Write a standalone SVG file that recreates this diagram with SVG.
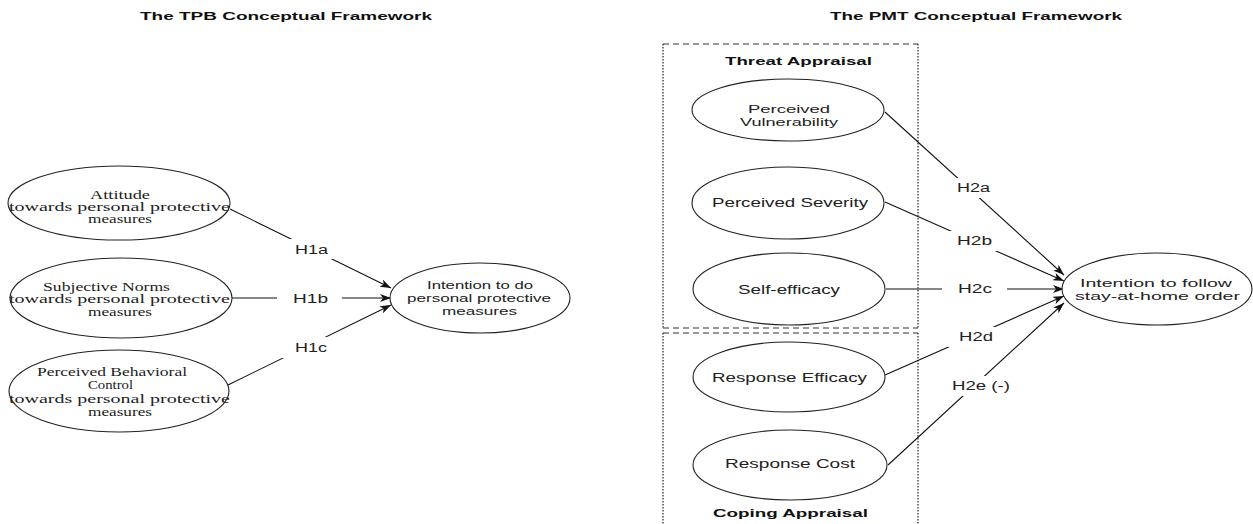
<svg xmlns="http://www.w3.org/2000/svg" width="1253" height="524" viewBox="0 0 1253 524">
<defs>
<marker id="arr" markerUnits="userSpaceOnUse" markerWidth="12" markerHeight="8" refX="11" refY="4" orient="auto">
<path d="M0,0 L11,4 L0,8 L3,4 z" fill="#111"/>
</marker>
<style>
.node{fill:#fff;stroke:#222;stroke-width:1.1}
.ser{font-family:"Liberation Serif","Times New Roman",serif;font-size:12.5px;fill:#222}
.san{font-family:"Liberation Sans",Arial,sans-serif;font-size:13px;fill:#222}
.san2{font-family:"Liberation Sans",Arial,sans-serif;font-size:11.5px;fill:#222}
.lab{font-family:"Liberation Sans",Arial,sans-serif;font-size:12px;fill:#222}
.ttl{font-family:"Liberation Sans",Arial,sans-serif;font-size:11px;font-weight:bold;fill:#111}
.edge{stroke:#111;stroke-width:1.1;fill:none;marker-end:url(#arr)}
.lbg{fill:#fff}
.dh{stroke:#333;stroke-width:1.1;stroke-dasharray:6 4;fill:none}
.dv{stroke:#222;stroke-width:1.2;stroke-dasharray:1.5 1.5;fill:none}
</style>
</defs>
<rect width="1253" height="524" fill="#fff"/>

<text class="ttl" x="140" y="20" textLength="292" lengthAdjust="spacingAndGlyphs">The TPB Conceptual Framework</text>
<text class="ttl" x="830" y="20" textLength="292" lengthAdjust="spacingAndGlyphs">The PMT Conceptual Framework</text>

<g id="threat-appraisal">
<line class="dh" x1="663" y1="44" x2="918" y2="44"/>
<line class="dh" x1="663" y1="328" x2="918" y2="328"/>
<line class="dv" x1="663" y1="44" x2="663" y2="328"/>
<line class="dv" x1="918" y1="44" x2="918" y2="328"/>
<text class="ttl" x="725" y="65" textLength="147" lengthAdjust="spacingAndGlyphs">Threat Appraisal</text>
</g>
<g id="coping-appraisal">
<line class="dh" x1="663" y1="333" x2="918" y2="333"/>
<line class="dv" x1="663" y1="333" x2="663" y2="524"/>
<line class="dv" x1="918" y1="333" x2="918" y2="524"/>
<text class="ttl" x="713" y="517" textLength="155" lengthAdjust="spacingAndGlyphs">Coping Appraisal</text>
</g>

<g id="connectors">
<line class="edge" x1="230" y1="209" x2="391" y2="288"/>
<line class="edge" x1="232" y1="298" x2="391" y2="298"/>
<line class="edge" x1="228" y1="385" x2="391" y2="305"/>
<line class="edge" x1="885" y1="112" x2="1064" y2="275"/>
<line class="edge" x1="885" y1="202" x2="1064" y2="281"/>
<line class="edge" x1="886" y1="289" x2="1064" y2="289"/>
<line class="edge" x1="885" y1="375" x2="1064" y2="296"/>
<line class="edge" x1="888" y1="465" x2="1064" y2="303"/>
<rect class="lbg" x="279" y="239" width="64" height="20"/>
<text class="lab" x="295" y="254" textLength="33" lengthAdjust="spacingAndGlyphs">H1a</text>
<rect class="lbg" x="277" y="289" width="65" height="20"/>
<text class="lab" x="293" y="303" textLength="35" lengthAdjust="spacingAndGlyphs">H1b</text>
<rect class="lbg" x="279" y="337" width="64" height="21"/>
<text class="lab" x="295" y="352" textLength="32" lengthAdjust="spacingAndGlyphs">H1c</text>
<rect class="lbg" x="941" y="178" width="65" height="20"/>
<text class="lab" x="957" y="192" textLength="33" lengthAdjust="spacingAndGlyphs">H2a</text>
<rect class="lbg" x="941" y="231" width="67" height="20"/>
<text class="lab" x="957" y="245" textLength="35" lengthAdjust="spacingAndGlyphs">H2b</text>
<rect class="lbg" x="942" y="279" width="65" height="20"/>
<text class="lab" x="958" y="293" textLength="34" lengthAdjust="spacingAndGlyphs">H2c</text>
<rect class="lbg" x="943" y="327" width="66" height="20"/>
<text class="lab" x="959" y="341" textLength="34" lengthAdjust="spacingAndGlyphs">H2d</text>
<rect class="lbg" x="938" y="376" width="86" height="20"/>
<text class="lab" x="952" y="390" textLength="58" lengthAdjust="spacingAndGlyphs">H2e (-)</text>
</g>

<g id="attitude">
<ellipse class="node" cx="119" cy="203" rx="111" ry="37"/>
<text class="ser" x="90" y="199" textLength="60" lengthAdjust="spacingAndGlyphs">Attitude</text>
<text class="ser" x="9" y="211" textLength="221" lengthAdjust="spacingAndGlyphs">towards personal protective</text>
<text class="ser" x="88" y="223" textLength="64" lengthAdjust="spacingAndGlyphs">measures</text>
</g>
<g id="subjective-norms">
<ellipse class="node" cx="121" cy="298" rx="111" ry="40"/>
<text class="ser" x="43" y="291" textLength="127" lengthAdjust="spacingAndGlyphs">Subjective Norms</text>
<text class="ser" x="9" y="303" textLength="221" lengthAdjust="spacingAndGlyphs">towards personal protective</text>
<text class="ser" x="88" y="316" textLength="64" lengthAdjust="spacingAndGlyphs">measures</text>
</g>
<g id="perceived-behavioral-control">
<ellipse class="node" cx="119" cy="391" rx="110" ry="41"/>
<text class="ser" x="37" y="376" textLength="150" lengthAdjust="spacingAndGlyphs">Perceived Behavioral</text>
<text class="ser" x="88" y="389" textLength="45" lengthAdjust="spacingAndGlyphs">Control</text>
<text class="ser" x="9" y="403" textLength="221" lengthAdjust="spacingAndGlyphs">towards personal protective</text>
<text class="ser" x="88" y="416" textLength="64" lengthAdjust="spacingAndGlyphs">measures</text>
</g>
<g id="intention-ppm">
<ellipse class="node" cx="480" cy="298" rx="90" ry="35"/>
<text class="san2" x="427" y="289" textLength="106" lengthAdjust="spacingAndGlyphs">Intention to do</text>
<text class="san2" x="407" y="302" textLength="144" lengthAdjust="spacingAndGlyphs">personal protective</text>
<text class="san2" x="442" y="315" textLength="75" lengthAdjust="spacingAndGlyphs">measures</text>
</g>

<g id="perceived-vulnerability">
<ellipse class="node" cx="788" cy="110" rx="96" ry="31"/>
<text class="san2" x="748" y="113" textLength="82" lengthAdjust="spacingAndGlyphs">Perceived</text>
<text class="san2" x="740" y="126" textLength="98" lengthAdjust="spacingAndGlyphs">Vulnerability</text>
</g>
<g id="perceived-severity">
<ellipse class="node" cx="788" cy="203" rx="96" ry="36"/>
<text class="san" x="712" y="207" textLength="156" lengthAdjust="spacingAndGlyphs">Perceived Severity</text>
</g>
<g id="self-efficacy">
<ellipse class="node" cx="789" cy="289" rx="96" ry="36"/>
<text class="san" x="738" y="294" textLength="102" lengthAdjust="spacingAndGlyphs">Self-efficacy</text>
</g>
<g id="response-efficacy">
<ellipse class="node" cx="789" cy="377" rx="96" ry="35"/>
<text class="san" x="712" y="382" textLength="155" lengthAdjust="spacingAndGlyphs">Response Efficacy</text>
</g>
<g id="response-cost">
<ellipse class="node" cx="790" cy="465" rx="97" ry="35"/>
<text class="san" x="725" y="468" textLength="130" lengthAdjust="spacingAndGlyphs">Response Cost</text>
</g>
<g id="intention-stay-home">
<ellipse class="node" cx="1157" cy="289" rx="95" ry="36"/>
<text class="san2" x="1080" y="287" textLength="152" lengthAdjust="spacingAndGlyphs">Intention to follow</text>
<text class="san2" x="1075" y="300" textLength="165" lengthAdjust="spacingAndGlyphs">stay-at-home order</text>
</g>
</svg>
